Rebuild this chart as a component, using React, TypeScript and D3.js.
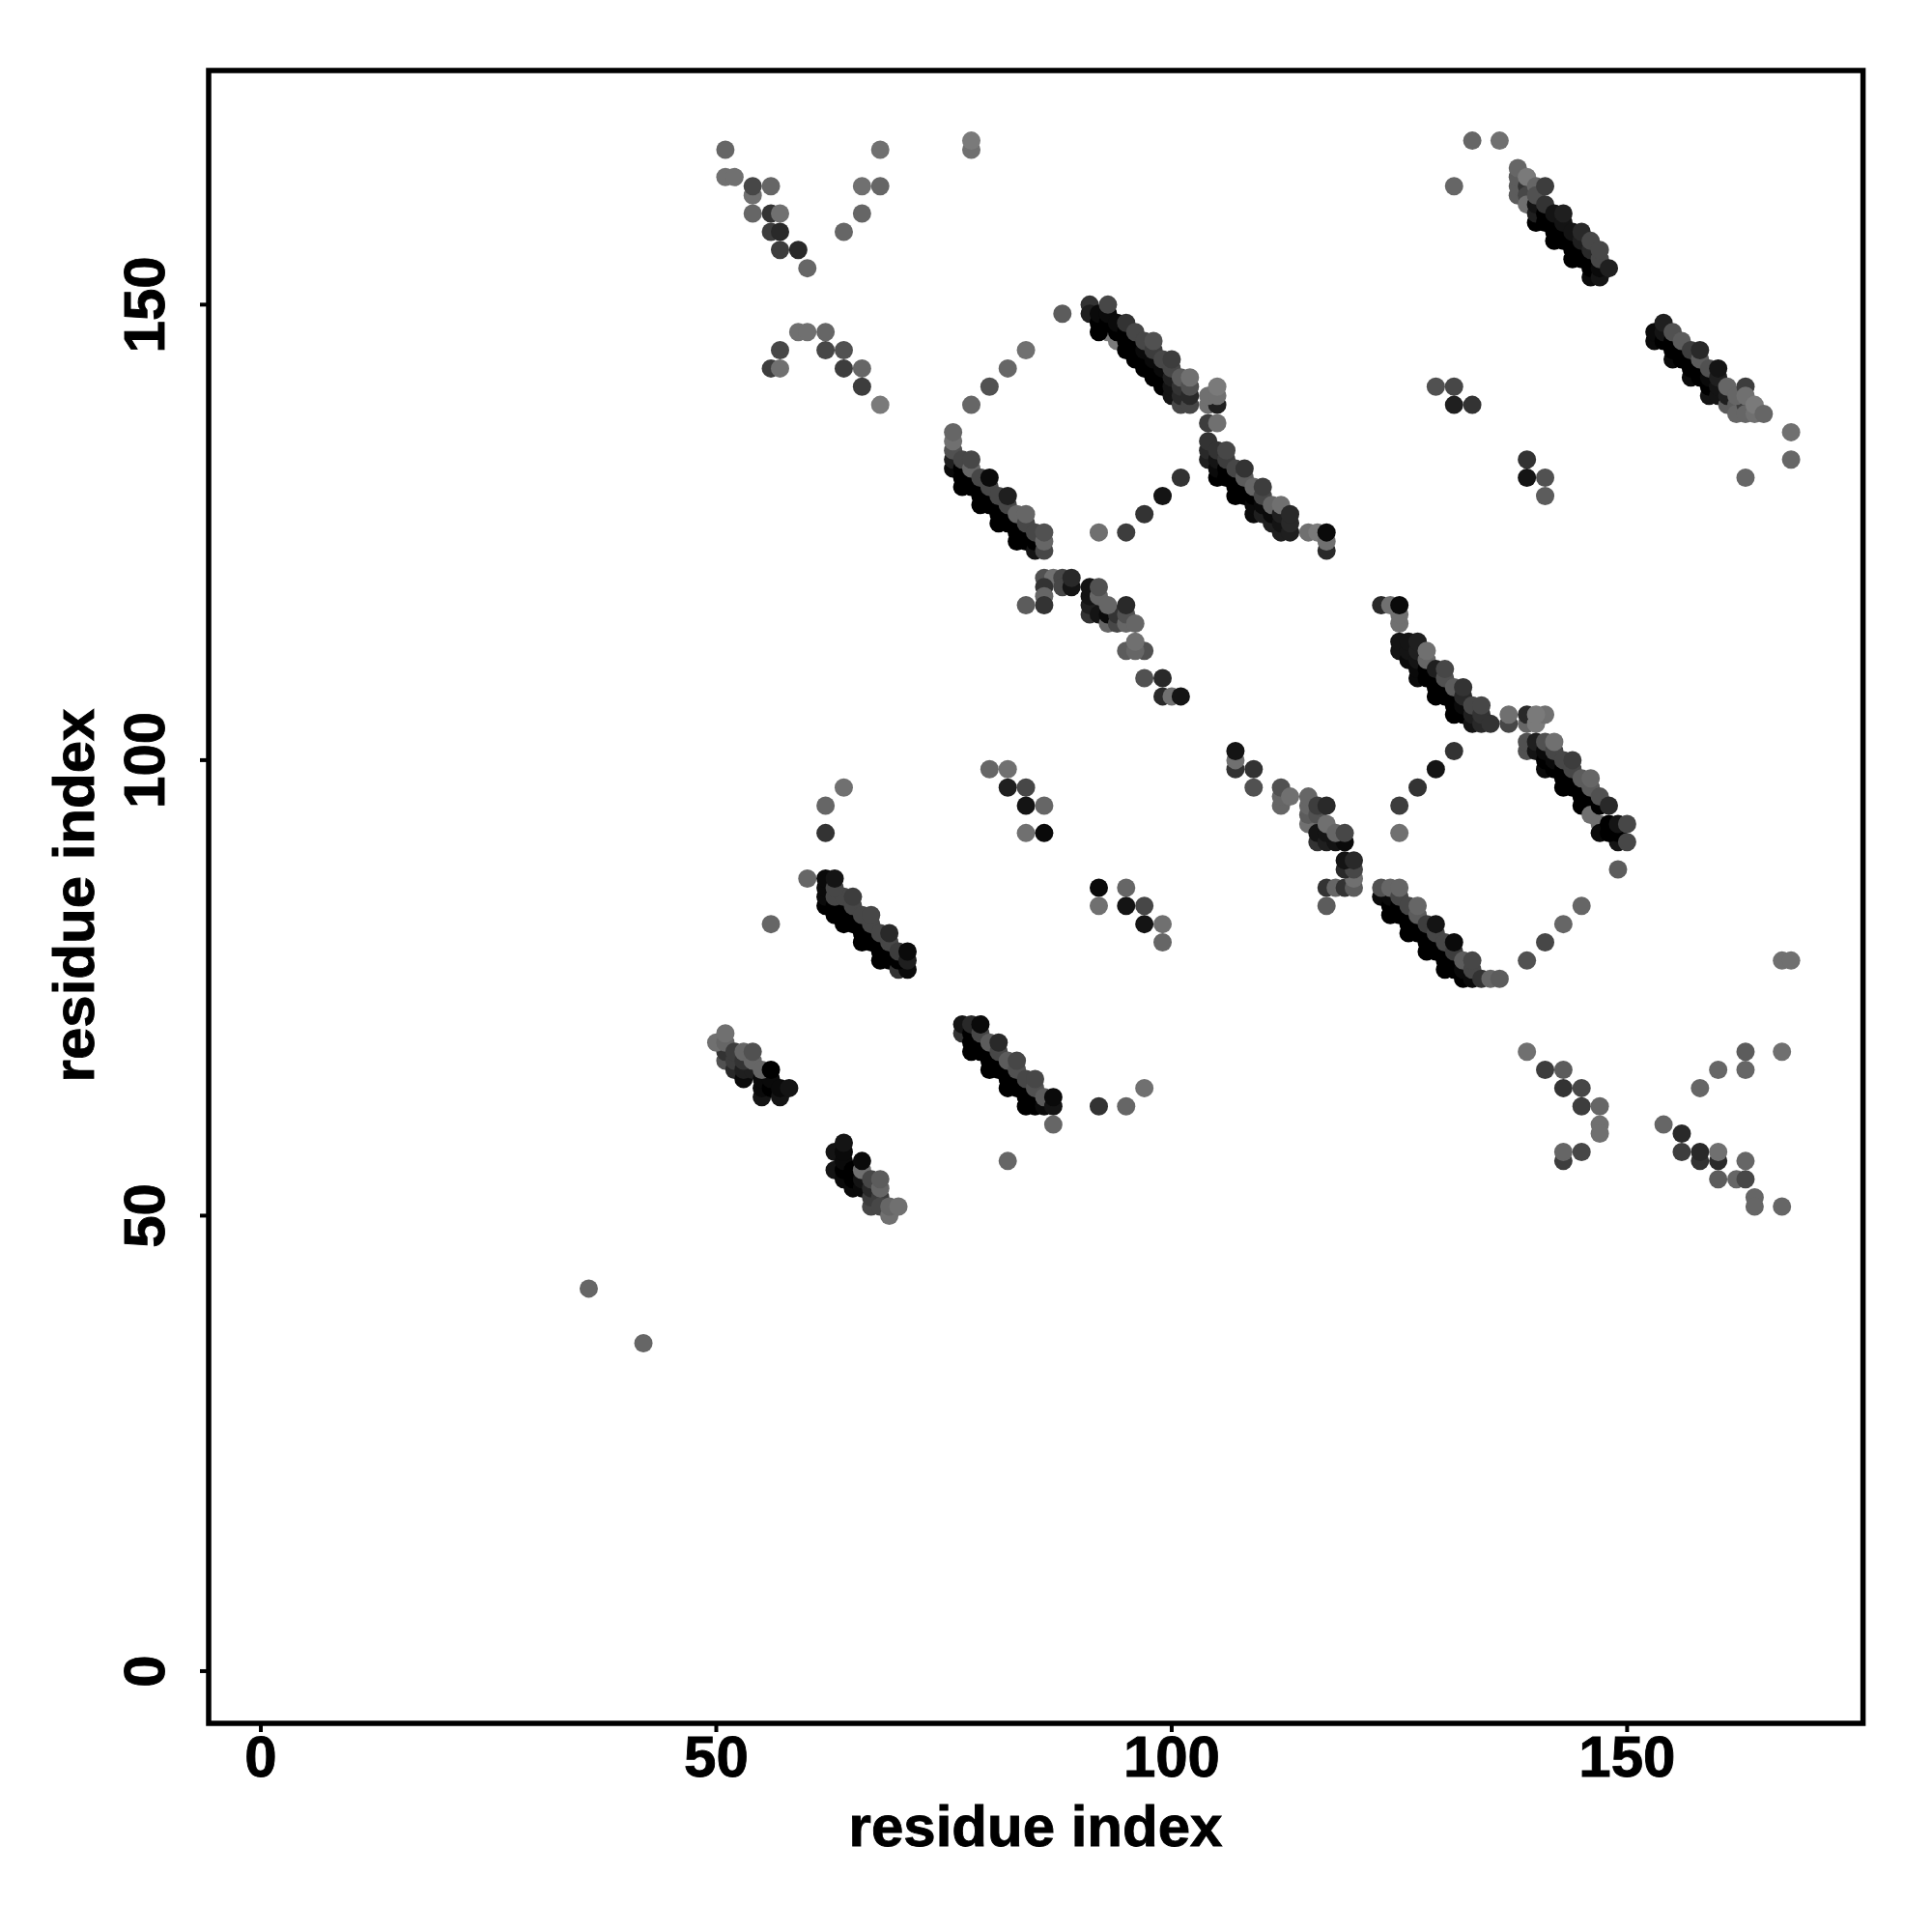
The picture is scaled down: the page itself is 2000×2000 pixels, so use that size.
import React from "react";
import * as d3 from "d3";

type P = [number, number, number];

// [residue i, residue j, contact score 0..12]
const isolated: P[] = [[36,42,2],[42,36,2],[56,82,2],[88,149,3],[82,56,2],[60,87,2]];
const topLeftV: P[] = [[51,167,2],[51,164,1],[52,164,1],[54,162,1],[54,163,5],[56,163,2],[54,160,2],[56,160,7],[57,160,1],[56,158,6],[57,158,8],[57,156,6],[59,156,8],[60,154,2],[68,167,1],[66,163,1],[68,163,2],[66,160,2],[64,158,2],[78,167,1],[78,168,0]];
const topLeftA: P[] = [[59,147,1],[60,147,1],[62,147,2],[57,145,5],[62,145,5],[64,145,4],[56,143,6],[57,143,1],[64,143,6],[66,143,2],[66,141,6],[68,139,0]];
const arcUpper: P[] = [[78,139,2],[80,141,4],[82,143,2],[84,145,1],[92,125,1],[95,125,6],[97,127,7],[99,129,10],[101,131,7]];
const clusterA: P[] = [[77,130,12],[79,128,12],[81,126,12],[83,124,12],
[76,132,11],[77,131,12],[78,130,12],[79,129,12],[80,128,12],[81,127,12],[82,126,12],[83,125,12],[84,124,12],[85,123,10],
[76,133,9],[77,132,12],[78,131,12],[79,130,12],[80,129,12],[81,128,12],[82,127,12],[83,126,12],[84,125,12],[85,124,12],
[76,134,4],[77,133,5],[78,132,2],[79,131,5],[80,130,5],[81,129,5],[82,128,5],[83,127,2],[84,126,5],[85,125,5],
[76,135,1],[76,136,2],[78,133,5],[80,131,11],[82,129,9],[84,127,2],[86,123,5],[86,124,2],[86,125,4]];
const clusterB: P[] = [[91,150,7],[91,149,9],[92,148,12],[93,147,0],[94,146,0],[92,147,12],[95,145,12],[96,144,12],[97,143,12],[98,142,12],[99,141,12],[100,140,10],[101,139,5],
[92,149,11],[93,148,12],[94,147,12],[95,146,12],[96,145,12],[97,144,12],[98,143,12],[99,142,12],[100,141,10],[101,140,8],[102,139,5],
[93,149,11],[94,148,11],[95,147,12],[96,146,12],[97,145,11],[98,144,11],[99,143,11],[100,142,9],[101,141,7],[102,140,8],
[93,150,5],[95,148,7],[96,147,5],[97,146,5],[98,145,6],[99,144,5],[100,143,5],[101,142,3],[102,141,4],[98,146,4],[100,144,6],[102,142,1]];
const clusterBTail: P[] = [[104,139,1],[105,139,9],[104,140,1],[105,140,1],[105,141,0],[104,137,6],[105,137,1]];
const clusterC: P[] = [[105,131,12],[107,129,12],[109,127,11],
[104,133,9],[105,132,11],[106,131,12],[107,130,12],[108,129,12],[109,128,11],[110,127,9],[111,126,9],[112,125,9],
[104,134,8],[105,133,10],[106,132,12],[107,131,12],[108,130,12],[109,129,12],[110,128,11],[111,127,11],[112,126,10],[113,125,9],
[104,135,7],[105,134,7],[106,133,6],[107,132,5],[108,131,3],[109,130,2],[110,129,5],[111,128,2],[112,127,9],[113,126,8],
[106,134,5],[108,132,7],[110,130,6],[112,128,1],[113,127,8],
[115,125,1],[116,125,0],[117,123,8],[117,124,1],[117,125,11]];
const clusterD: P[] = [[153,146,11],[155,144,11],[157,142,11],[159,140,10],
[153,147,11],[154,146,12],[155,145,12],[156,144,12],[157,143,12],[158,142,12],[159,141,12],[160,140,10],[161,139,3],
[154,147,10],[155,146,12],[156,145,12],[157,144,12],[158,143,12],[159,142,11],[160,141,10],[161,140,9],[162,139,3],[162,138,2],[163,139,6],
[154,148,9],[155,147,4],[156,146,3],[157,145,6],[158,144,3],[159,143,4],[158,145,8],[160,142,9],[160,143,10],[161,141,2],[162,140,2],[163,138,2],[164,138,1],[163,141,6],[163,140,1],[164,139,0],[165,138,2]];
const rightBits: P[] = [[129,141,4],[131,141,5],[131,139,9],[133,139,7],[139,133,7],[139,131,10],[141,131,4],[141,129,3],[168,136,1],[168,133,2],[163,131,2],[131,163,2],[133,168,2],[136,168,1]];
const clusterE: P[] = [[138,162,3],[138,163,3],[138,164,3],[138,165,2],[139,163,7],[139,162,5],[139,161,1],[140,159,12],[142,157,12],[144,155,12],[146,153,11],
[140,160,9],[141,159,12],[142,158,12],[143,157,12],[144,156,12],[145,155,12],[146,154,12],[147,153,10],
[140,161,10],[141,160,12],[142,159,12],[143,158,12],[144,157,12],[145,156,12],[146,155,12],[147,154,11],
[139,164,0],[140,163,2],[140,162,4],[141,161,7],[142,160,10],[143,159,10],[144,158,10],[145,157,9],[146,156,8],[147,155,5],[141,163,6],[143,160,9],[145,158,8],[146,157,5],[147,156,5],[148,154,9]];
const middleBits: P[] = [[86,120,4],[87,120,1],[86,119,7],[88,120,5],[88,119,5],[89,119,10],[89,120,8],[86,118,2],[86,117,7],[84,117,3]];
const clusterF: P[] = [[91,116,7],[91,117,9],[91,118,10],[91,119,10],[92,116,10],[93,115,2],[93,116,11],[94,115,5],[94,116,7],[92,118,2],[92,119,4],[93,117,2],[95,115,2],[95,116,4],[96,115,2],[95,117,8],[95,112,3],[97,112,4],[96,112,2],[96,113,1],[97,109,4],[99,109,8],[99,107,8],[100,107,1],[101,107,10]];
const clusterG: P[] = [[123,117,8],[124,117,1],[125,115,1],[125,116,1],[125,117,11],
[127,109,11],[129,107,12],[131,105,12],
[125,112,10],[126,111,11],[127,110,11],[128,109,12],[129,108,12],[130,107,12],[131,106,12],[132,105,12],[133,104,10],
[125,113,10],[126,112,10],[127,111,10],[128,110,12],[129,109,12],[130,108,12],[131,107,12],[132,106,11],[133,105,9],[134,104,8],
[126,113,10],[127,112,9],[128,111,2],[129,110,9],[130,109,4],[131,108,3],[132,107,8],[133,106,5],[134,105,7],[135,104,7],
[127,113,9],[128,112,1],[130,110,5],[132,108,7],[134,106,5]];
const clusterGTail: P[] = [[137,104,5],[137,105,1],[139,104,2],[139,105,8],[140,104,0],[141,105,1],[140,105,0]];
const clusterH: P[] = [[107,99,7],[107,100,1],[107,101,10],[109,99,7],[109,97,4],[112,95,2],[112,96,2],[112,97,4],[113,96,1],
[115,93,1],[115,94,3],[115,95,2],[115,96,2],[116,91,7],[116,92,10],[117,91,9],[118,91,10],[119,91,11],[117,92,10],[116,94,4],[116,95,6],[117,93,1],[117,95,8],[118,92,2],[119,92,5]];
const clusterHTail: P[] = [[117,86,7],[118,86,2],[119,86,7],[120,86,3],[120,87,1],[119,88,8],[120,88,5],[119,89,10],[120,89,8],[117,84,3]];
const arcMiddle: P[] = [[125,95,6],[127,97,7],[129,99,10],[131,101,7],[125,92,1],[139,78,4],[141,80,5],[143,82,2],[145,84,2],[149,88,3]];
const clusterI: P[] = [[124,83,12],[126,81,12],[128,79,12],[130,77,12],
[123,85,11],[124,84,12],[125,83,12],[126,82,12],[127,81,12],[128,80,12],[129,79,12],[130,78,12],[131,77,12],[132,76,12],
[124,85,11],[125,84,12],[126,83,12],[127,82,12],[128,81,12],[129,80,12],[130,79,12],[131,78,12],[132,77,11],[133,76,11],
[123,86,4],[124,86,2],[125,85,5],[126,84,5],[127,83,3],[128,82,6],[129,81,5],[130,80,5],[131,79,6],[132,78,3],[133,77,5],[134,76,7],
[125,86,2],[127,84,2],[129,82,10],[131,80,11],[133,78,5],[135,76,2],[136,76,3]];
const clusterJ: P[] = [[139,101,4],[139,102,4],[141,99,11],[143,97,12],[145,95,12],
[140,101,10],[141,100,12],[142,99,12],[143,98,12],[144,97,12],[145,96,12],[146,95,12],[146,94,1],[147,93,1],[147,92,11],[149,91,10],
[140,102,9],[141,101,11],[142,100,11],[143,99,12],[144,98,12],[145,97,12],[146,96,12],[147,95,12],[148,93,12],[148,92,12],[149,92,12],[149,93,10],[150,91,5],
[141,102,4],[142,101,5],[143,100,5],[144,99,5],[145,98,3],[146,97,3],[147,96,4],[148,95,8],[150,93,5],
[142,102,1],[144,100,6],[146,98,2]];
const midLeft: P[] = [[64,97,1],[62,95,2],[62,92,7],[80,99,2],[82,99,1],[82,97,9],[84,97,5],[84,95,10],[86,95,2],[84,92,1],[86,92,11],[92,86,11],[95,86,2],[92,84,1],[95,84,10],[97,84,5],[97,82,10],[99,82,1],[99,80,2]];
const clusterK: P[] = [[64,82,12],[66,80,12],[68,78,12],
[62,84,12],[63,83,12],[64,83,12],[65,82,12],[66,81,12],[67,80,12],[68,79,12],[69,78,12],[70,77,7],[71,77,11],
[62,85,11],[63,84,12],[64,84,12],[65,83,12],[66,82,12],[67,81,12],[68,80,12],[69,79,12],[70,78,12],
[62,86,11],[62,87,11],[63,85,5],[64,85,5],[65,84,5],[66,83,5],[67,82,5],[68,81,5],[69,80,5],[70,79,6],[71,78,9],
[63,86,5],[63,87,10],[65,85,6],[67,83,5],[69,81,8],[71,79,11]];
const clusterL: P[] = [[51,67,4],[51,68,7],[50,69,1],[51,69,2],[51,70,1],[52,66,8],[52,67,6],[52,68,6],[53,65,11],[53,66,9],[54,66,9],[53,67,7],[53,68,2],[54,67,2],[54,68,4],
[55,63,10],[55,64,11],[55,65,11],[56,64,12],[56,65,11],[55,66,2],[56,66,12],[57,63,10],[57,64,11],[58,64,10]];
const clusterM: P[] = [[63,55,10],[63,57,10],[64,54,11],[64,55,12],[64,56,11],[64,57,11],[64,58,10],[65,53,11],[65,54,12],[65,55,12],[66,53,11],[66,54,10],[66,55,1],[66,56,11],
[67,51,5],[67,52,6],[67,53,8],[68,52,6],[67,54,5],[68,51,5],[68,53,2],[68,54,3],[69,50,1],[69,51,2],[70,51,1]];
const clusterN: P[] = [[78,68,12],[80,66,12],[82,64,12],
[77,70,7],[78,69,12],[79,68,12],[80,67,12],[81,66,12],[82,65,12],[83,64,12],[84,63,12],[85,62,12],[84,62,12],
[77,71,10],[78,70,12],[79,69,12],[80,68,12],[81,67,12],[82,66,12],[83,65,12],[84,64,12],[85,63,12],[86,62,11],
[78,71,8],[79,70,5],[80,69,3],[81,68,5],[82,67,3],[83,66,4],[84,65,5],[85,64,4],[86,63,3],[87,62,10],
[79,71,11],[81,69,8],[83,67,5],[85,65,5],[87,63,11]];
const nearN: P[] = [[87,60,2],[92,62,7],[95,62,2],[97,64,1]];
const bottomRight: P[] = [[139,68,1],[141,66,6],[143,66,3],[143,64,7],[145,64,5],[145,62,6],[147,62,2],[147,60,1],[147,59,1],[143,56,6],[143,57,2],[145,57,5],
[154,60,2],[156,59,8],[156,57,6],[158,56,7],[158,57,8],[160,56,8],[160,57,1],[163,56,2],[160,54,3],[162,54,2],[163,54,5],[164,52,2],[164,51,2],[167,51,2],
[163,68,3],[167,68,1],[160,66,2],[163,66,2],[158,64,2],[167,78,1],[168,78,1]];

const marks: P[] = [...isolated, ...topLeftV, ...topLeftA, ...arcUpper, ...clusterA, ...clusterB, ...clusterBTail, ...clusterC, ...clusterD, ...rightBits, ...clusterE, ...middleBits, ...clusterF, ...clusterG, ...clusterGTail, ...clusterH, ...clusterHTail, ...arcMiddle, ...clusterI, ...clusterJ, ...midLeft, ...clusterK, ...clusterL, ...clusterM, ...clusterN, ...nearN, ...bottomRight];

const xTicks = [0, 50, 100, 150];
const yTicks = [0, 50, 100, 150];
const axisTitle = "residue index";

const FONT = "'Liberation Sans', Arial, sans-serif";
const textStyle = { fontFamily: FONT, fontWeight: 700, fill: "#000", stroke: "#000", strokeWidth: 0.9 } as const;

export default function App() {
  const x = d3.scaleLinear().domain([-5.73, 175.9]).range([216, 1928.6]);
  const y = d3.scaleLinear().domain([-5.73, 175.7]).range([1784, 73]);
  const tone = d3.scaleLinear<string>().domain([0, 12]).range(["#7a7a7a", "#000000"]);
  const left = x.range()[0], right = x.range()[1], bottom = y.range()[0], top = y.range()[1];
  return (
    <svg width={2000} height={2000} viewBox="0 0 2000 2000" style={{ position: "absolute", left: 0, top: 0, background: "#fff" }}>
      <g>
        {marks.map((d, k) => (
          <circle key={k} cx={x(d[0])} cy={y(d[1])} r={9.5} fill={tone(d[2])} />
        ))}
      </g>
      <rect x={left} y={top} width={right - left} height={bottom - top} fill="none" stroke="#000" strokeWidth={5.5} />
      {xTicks.map((t) => (
        <g key={t}>
          <line x1={x(t)} x2={x(t)} y1={bottom} y2={bottom + 9} stroke="#000" strokeWidth={4} />
          <text x={x(t)} y={1839} textAnchor="middle" fontSize={60} {...textStyle}>{t}</text>
        </g>
      ))}
      {yTicks.map((t) => (
        <g key={t}>
          <line x1={left - 9} x2={left} y1={y(t)} y2={y(t)} stroke="#000" strokeWidth={4} />
          <text transform={`translate(170,${y(t)}) rotate(-90)`} textAnchor="middle" fontSize={60} {...textStyle}>{t}</text>
        </g>
      ))}
      <text x={1072} y={1911} textAnchor="middle" fontSize={60} {...textStyle}>{axisTitle}</text>
      <text transform="translate(97,927) rotate(-90)" textAnchor="middle" fontSize={60} {...textStyle}>{axisTitle}</text>
    </svg>
  );
}
